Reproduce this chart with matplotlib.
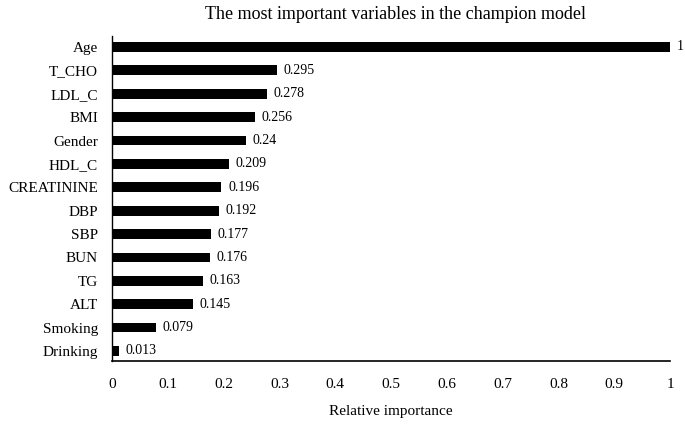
import matplotlib
matplotlib.use("Agg")
import matplotlib.pyplot as plt

variables = ["Age", "T_CHO", "LDL_C", "BMI", "Gender", "HDL_C", "CREATININE",
             "DBP", "SBP", "BUN", "TG", "ALT", "Smoking", "Drinking"]
importance = [1, 0.295, 0.278, 0.256, 0.24, 0.209, 0.196,
              0.192, 0.177, 0.176, 0.163, 0.145, 0.079, 0.013]
value_labels = ["1", "0.295", "0.278", "0.256", "0.24", "0.209", "0.196",
                "0.192", "0.177", "0.176", "0.163", "0.145", "0.079", "0.013"]
xticks = [0, 0.1, 0.2, 0.3, 0.4, 0.5, 0.6, 0.7, 0.8, 0.9, 1]
xtick_labels = ["0", "0.1", "0.2", "0.3", "0.4", "0.5", "0.6", "0.7", "0.8", "0.9", "1"]

plt.rcParams['font.family'] = ['Liberation Serif', 'DejaVu Serif']

fig = plt.figure(figsize=(6.85, 4.24), dpi=100)
ax = fig.add_axes([112/685, 1 - 361/424, (670-112)/685, (361-36)/424])

n = len(variables)
ypos = [n - 1 - i for i in range(n)]
ax.barh(ypos, importance, height=0.42, color='black')

for y, v, lab in zip(ypos, importance, value_labels):
    ax.text(v + 0.012, y, lab, va='center', ha='left', fontsize=10)

ax.set_xlim(0, 1)
ax.set_ylim(-0.43, n - 1 + 0.47)
ax.set_yticks(ypos)
ax.set_yticklabels(variables, fontsize=11)
ax.set_xticks(xticks)
ax.set_xticklabels(xtick_labels, fontsize=11)
ax.tick_params(axis='both', length=0)
ax.tick_params(axis='x', pad=12)
ax.tick_params(axis='y', pad=10)

for s in ['top', 'right']:
    ax.spines[s].set_visible(False)
ax.spines['left'].set_color('black')
ax.spines['bottom'].set_color('black')
ax.spines['left'].set_linewidth(1.0)
ax.spines['bottom'].set_linewidth(1.2)

ax.set_xlabel("Relative importance", fontsize=11, labelpad=10)
fig.text(0.577, 0.965, "The most important variables in the champion model",
         ha='center', va='center', fontsize=13)

fig.savefig("out.png", dpi=100)
